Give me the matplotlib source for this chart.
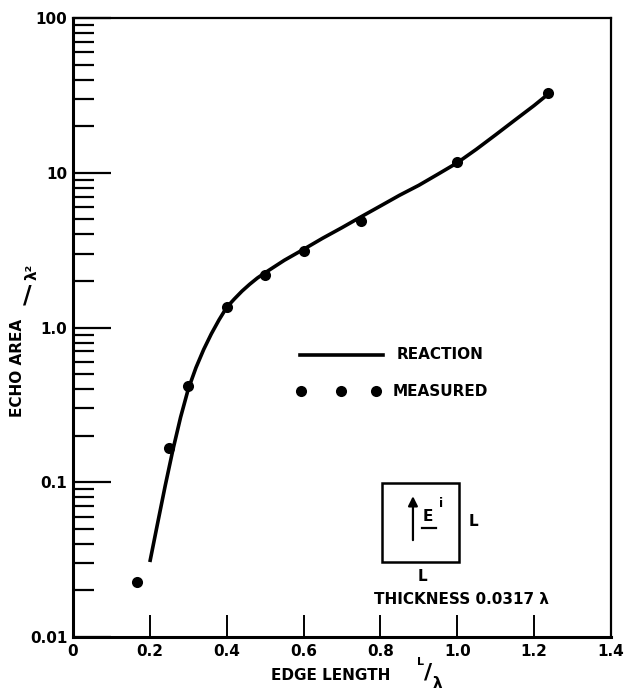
import matplotlib
matplotlib.use("Agg")
import matplotlib.pyplot as plt
from matplotlib.patches import Rectangle

# Measured data
meas_x = [0.167, 0.25, 0.30, 0.40, 0.50, 0.60, 0.75, 1.00, 1.235]
meas_y = [0.0225, 0.166, 0.42, 1.36, 2.2, 3.1, 4.9, 11.7, 33.0]

# Reaction (computed) curve
reac_x = [0.20, 0.22, 0.24, 0.26, 0.28, 0.30, 0.32, 0.34, 0.36, 0.38, 0.40, 0.42,
          0.44, 0.46, 0.48, 0.50, 0.55, 0.60, 0.65, 0.70, 0.75, 0.80, 0.85, 0.90,
          0.95, 1.00, 1.05, 1.10, 1.15, 1.20, 1.235]
reac_y = [0.0305, 0.054, 0.095, 0.162, 0.263, 0.40, 0.55, 0.72, 0.91, 1.12, 1.35, 1.53,
          1.72, 1.905, 2.09, 2.26, 2.72, 3.20, 3.78, 4.42, 5.20, 6.10, 7.16, 8.30,
          9.80, 11.6, 14.2, 17.6, 21.9, 27.2, 32.0]

xticks = [0, 0.2, 0.4, 0.6, 0.8, 1.0, 1.2, 1.4]
xticklabels = ["0", "0.2", "0.4", "0.6", "0.8", "1.0", "1.2", "1.4"]
yticks = [0.01, 0.1, 1.0, 10, 100]
yticklabels = ["0.01", "0.1", "1.0", "10", "100"]

plt.rcParams['font.family'] = ['DejaVu Sans']
plt.rcParams['font.weight'] = 'bold'

fig = plt.figure(figsize=(6.24, 6.95), dpi=100)
ax = fig.add_axes([0.117, 0.0835, 0.862, 0.8905])

ax.plot(reac_x, reac_y, color="black", lw=2.6, solid_capstyle="butt",
        solid_joinstyle="round")
ax.plot(meas_x, meas_y, "o", color="black", ms=8, mec="none")

ax.set_yscale("log")
ax.set_xlim(0, 1.4)
ax.set_ylim(0.01, 100)

ax.set_xticks(xticks)
ax.set_xticklabels(xticklabels, fontsize=11, fontweight="bold")
ax.set_yticks(yticks)
ax.set_yticklabels(yticklabels, fontsize=11, fontweight="bold")
ax.xaxis.set_minor_locator(matplotlib.ticker.NullLocator())
ax.yaxis.set_minor_locator(matplotlib.ticker.LogLocator(base=10, subs=range(2, 10)))
ax.yaxis.set_minor_formatter(matplotlib.ticker.NullFormatter())

ax.tick_params(axis="y", which="major", direction="in", length=27, width=1.6, pad=4)
ax.tick_params(axis="y", which="minor", direction="in", length=15, width=1.6)
ax.tick_params(axis="x", which="major", direction="in", length=16, width=1.4, pad=5)

for s in ax.spines.values():
    s.set_linewidth(1.6)
ax.spines["left"].set_linewidth(2.2)
ax.spines["bottom"].set_linewidth(2.2)

T = ax.transAxes
# Legend
ax.plot([0.422, 0.576], [0.456, 0.456], color="black", lw=2.6, transform=T)
ax.text(0.602, 0.456, "REACTION", transform=T, fontsize=11, fontweight="bold", va="center")
ax.plot([0.424, 0.498, 0.563], [0.397, 0.397, 0.397], "o", color="black", ms=8,
        mec="none", transform=T)
ax.text(0.594, 0.397, "MEASURED", transform=T, fontsize=11, fontweight="bold", va="center")

# Inset sketch
ax.add_patch(Rectangle((0.574, 0.121), 0.143, 0.128, transform=T, fill=False,
                       lw=1.8, ec="black"))
ax.annotate("", xy=(0.632, 0.232), xytext=(0.632, 0.152), xycoords=T, textcoords=T,
            arrowprops=dict(arrowstyle="-|>", color="black", lw=1.6, mutation_scale=14))
ax.text(0.660, 0.195, "E", transform=T, fontsize=11, fontweight="bold", ha="center", va="center")
ax.plot([0.648, 0.674], [0.176, 0.176], color="black", lw=1.6, transform=T)
ax.text(0.685, 0.215, "i", transform=T, fontsize=9, fontweight="bold", ha="center", va="center")
ax.text(0.745, 0.186, "L", transform=T, fontsize=11, fontweight="bold", ha="center", va="center")
ax.text(0.649, 0.097, "L", transform=T, fontsize=11, fontweight="bold", ha="center", va="center")
ax.text(0.723, 0.060, "THICKNESS 0.0317 λ", transform=T, fontsize=11, fontweight="bold",
        ha="center", va="center")

# Axis labels
fig.text(331/624, 1 - 676/695, "EDGE LENGTH", fontsize=11, fontweight="bold",
         ha="center", va="center")
fig.text(420/624, 1 - 662/695, "L", fontsize=8, fontweight="bold", ha="center", va="center")
fig.text(428/624, 1 - 672/695, "/", fontsize=16, fontweight="bold", ha="center", va="center")
fig.text(437/624, 1 - 684/695, "λ", fontsize=11, fontweight="bold", ha="center", va="center")

fig.text(18/624, 1 - 368/695, "ECHO AREA", fontsize=11, fontweight="bold", rotation=90,
         ha="center", va="center")
fig.text(27/624, 1 - 296/695, "/", fontsize=17, fontweight="bold", rotation=0,
         ha="center", va="center")
fig.text(32/624, 1 - 272/695, "λ²", fontsize=11, fontweight="bold", rotation=90,
         ha="center", va="center")

fig.savefig("out.png", dpi=100)
